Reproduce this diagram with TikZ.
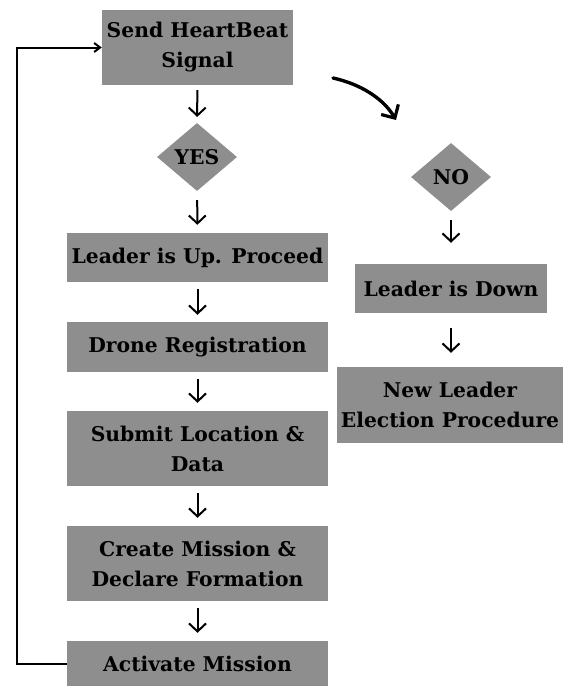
\documentclass[tikz,border=0pt]{standalone}
\usepackage{fontspec}
\setmainfont{DejaVu Serif}
\usetikzlibrary{shapes.geometric,arrows.meta}
\definecolor{boxgray}{RGB}{142,142,142}
\begin{document}
\begin{tikzpicture}[x=1pt,y=-1pt,
  every node/.style={font=\bfseries\fontsize{20.3}{30}\selectfont, text=black, align=center},
  stepbox/.style={rectangle, fill=boxgray, inner sep=0pt},
  choice/.style={diamond, fill=boxgray, inner sep=0pt, minimum width=80, minimum height=68},
  flow/.style={-{Straight Barb[length=8pt,width=17pt,line width=2pt]}, line width=2pt},
  loop/.style={-{Straight Barb[length=6pt,width=9pt,line width=2pt]}, line width=2pt},
  swoop/.style={-{Straight Barb[length=10pt,width=20pt,line width=3.2pt]}, line width=3.4pt, line cap=round}]
\useasboundingbox (0,0) rectangle (563,686);
\fill[white] (0,0) rectangle (563,686);
\node[stepbox, minimum width=191, minimum height=75] (send) at (197.5,47.5) {Send HeartBeat\\Signal};
\node[choice] (yes) at (197,157) {YES};
\node[stepbox, minimum width=261, minimum height=49] (up) at (197.5,257.5) {Leader is Up. Proceed};
\node[stepbox, minimum width=261, minimum height=50] (drone) at (197.5,347) {Drone Registration};
\node[stepbox, minimum width=261, minimum height=75] (submit) at (197.5,448.5) {Submit Location \&\\Data};
\node[stepbox, minimum width=261, minimum height=75] (create) at (197.5,563.5) {Create Mission \&\\Declare Formation};
\node[stepbox, minimum width=261, minimum height=45] (act) at (197.5,663.5) {Activate Mission};
\node[choice] (no) at (451,177) {NO};
\node[stepbox, minimum width=192, minimum height=49] (down) at (451,288.5) {Leader is Down};
\node[stepbox, minimum width=226, minimum height=76] (newl) at (450,405) {New Leader\\Election Procedure};
\coordinate (cs) at (333,78);
\coordinate (ce) at (396,120);
\draw[flow, shorten <=5pt, shorten >=6pt] (send) -- (yes);
\draw[flow, shorten <=9pt, shorten >=8pt] (yes) -- (up);
\draw[flow, shorten <=7pt, shorten >=7pt] (up) -- (drone);
\draw[flow, shorten <=7pt, shorten >=8pt] (drone) -- (submit);
\draw[flow, shorten <=7pt, shorten >=8pt] (submit) -- (create);
\draw[flow, shorten <=7pt, shorten >=8pt] (create) -- (act);
\draw[flow, shorten <=9pt, shorten >=21pt] (no) -- (down);
\draw[flow, shorten <=15pt, shorten >=14pt] (down.south) -- (newl.north -| down.south);
\draw[loop] (act.west) -- (17,663.5) |- (send.west);
\draw[swoop] (cs) .. controls (360,84) and (383,98) .. (ce);
\end{tikzpicture}
\end{document}
